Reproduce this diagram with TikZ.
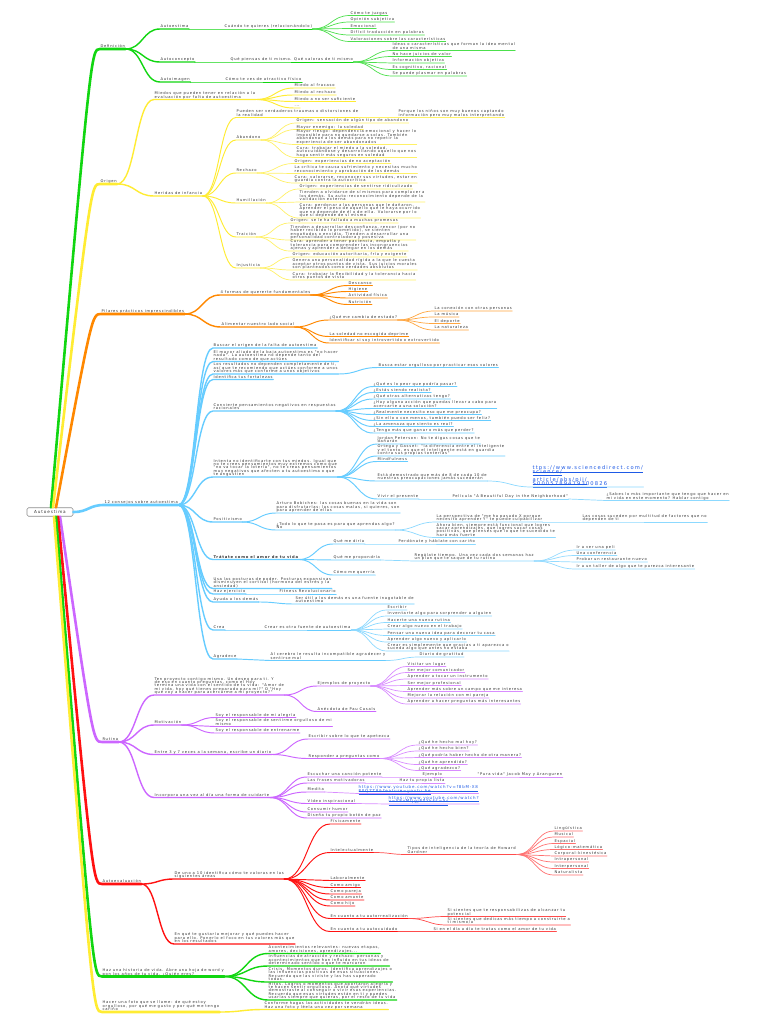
\documentclass[tikz,border=0pt]{standalone}
\usepackage{fontspec}
\usetikzlibrary{calc}
\newfontfamily\mmf{DejaVu Sans}[LetterSpace=20]
\newfontfamily\mmlf{DejaVu Sans}[LetterSpace=22]
\definecolor{cG}{RGB}{17,214,17}
\definecolor{cY}{RGB}{255,236,51}
\definecolor{cO}{RGB}{255,136,0}
\definecolor{cB}{RGB}{102,204,255}
\definecolor{cP}{RGB}{204,102,255}
\definecolor{cR}{RGB}{255,17,17}
\definecolor{cL}{RGB}{30,90,230}
\newcommand\mmtight{\lineskiplimit=-6pt\relax\lineskip=0pt\relax}
\newcommand\mmsz{\fontsize{3.7}{3.4}\selectfont\mmtight}
\newcommand\mmlksz{\fontsize{5.2}{4.2}\selectfont\mmtight}
\newcommand\mmytsz{\fontsize{4}{3.5}\selectfont\mmtight}
\newcommand\mmn[7]{\node[nd] (#4) at (#5,#6) {#7};\draw[#2,draw=#1] (#3.south east) to[sc] (#4.south west) -- (#4.south east);}
\begin{document}
\begin{tikzpicture}[x=1pt,y=-1pt,
 nd/.style={anchor=south west,inner xsep=0.4pt,inner ysep=0.3pt,text depth=0.8pt,align=left,font=\mmf\mmsz,text=black!80},
 lk/.style={nd,text=cL},
 w1/.style={line width=2.6pt,line cap=round},
 w2/.style={line width=1.4pt,line cap=round},
 w3/.style={line width=0.95pt,line cap=round},
 w4/.style={line width=0.7pt,line cap=round},
 sc/.style={to path={.. controls ($(\tikztostart)!0.5!(\tikztotarget |- \tikztostart)$) and ($(\tikztotarget)!0.5!(\tikztostart |- \tikztotarget)$) .. (\tikztotarget)}},
 rt/.style={to path={.. controls ($(\tikztotarget)+(-9,0)$) .. (\tikztotarget)}},
 rootbox/.style={draw=black!45,rounded corners=1.5pt,line width=0.6pt,fill=white,minimum width=46pt,minimum height=8.5pt,inner sep=0.5pt,font=\mmf\fontsize{4.2}{4.2}\selectfont,text=black!80}]
\fill[white] (0,0) rectangle (768,1024);
\useasboundingbox (0,0) rectangle (768,1024);
\node[rootbox] (root) at (50,512) {Autoestima};

% ---------------- GREEN: Definicion
\node[nd] (defi) at (100,49) {Definición};
\draw[w1,draw=cG] ($(root.north)+(1,0)$) to[rt] (defi.south west) -- (defi.south east);
\mmn{cG}{w2}{defi}{dae}{160}{29}{Autoestima}
\mmn{cG}{w3}{dae}{daeq}{224}{29}{Cuándo te quieres (relacionándolo)}
\mmn{cG!75}{w4}{daeq}{daeA}{350}{15.5}{Cómo te juzgas}
\mmn{cG!75}{w4}{daeq}{daeB}{350}{22}{Opinión subjetiva}
\mmn{cG!75}{w4}{daeq}{daeC}{350}{28.5}{Emocional}
\mmn{cG!75}{w4}{daeq}{daeD}{350}{35}{Difícil traducción en palabras}
\mmn{cG!75}{w4}{daeq}{daeE}{350}{41.5}{Valoraciones sobre las características}
\mmn{cG}{w2}{defi}{dac}{160}{62}{Autoconcepto}
\mmn{cG}{w3}{dac}{dacq}{230}{62}{Qué piensas de ti mismo. Qué valoras de ti mismo}
\mmn{cG!75}{w4}{dacq}{dacA}{392}{50.5}{Ideas o características que forman la idea mental\\de una misma}
\mmn{cG!75}{w4}{dacq}{dacB}{392}{56.5}{No hace juicios de valor}
\mmn{cG!75}{w4}{dacq}{dacC}{392}{63}{Información objetiva}
\mmn{cG!75}{w4}{dacq}{dacD}{392}{69.5}{Es cognitivo, racional}
\mmn{cG!75}{w4}{dacq}{dacE}{392}{76}{Se puede plasmar en palabras}
\mmn{cG}{w2}{defi}{dai}{160}{82}{Autoimagen}
\mmn{cG}{w3}{dai}{daiq}{225}{82}{Cómo te ves de atractivo físico}

% ---------------- YELLOW: Origen
\node[nd] (ori) at (100,184) {Origen};
\draw[w1,draw=cY] ($(root.north)+(3,0)$) to[rt] (ori.south west) -- (ori.south east);
\mmn{cY}{w2}{ori}{om}{154}{99.5}{Miedos que pueden tener en relación a la\\evaluación por falta de autoestima}
\mmn{cY}{w3}{om}{omA}{294}{88}{Miedo al fracaso}
\mmn{cY}{w3}{om}{omB}{294}{95}{Miedo al rechazo}
\mmn{cY}{w3}{om}{omC}{294}{101.5}{Miedo a no ser suficiente}
\mmn{cY}{w3}{om}{omD}{294}{108}{...}
\mmn{cY}{w2}{ori}{oh}{154}{196}{Heridas de infancia}
\mmn{cY}{w3}{oh}{ohA}{236}{117.5}{Pueden ser verdaderos traumas o distorsiones de\\la realidad}
\mmn{cY!75}{w4}{ohA}{ohAa}{398}{117.5}{Porque los niños son muy buenos captando\\información pero muy malos interpretando}
\mmn{cY}{w3}{oh}{ohB}{236}{140}{Abandono}
\mmn{cY!75}{w4}{ohB}{ohB1}{296}{123}{Origen: sensación de algún tipo de abandono}
\mmn{cY!75}{w4}{ohB}{ohB2}{296}{129.5}{Mayor enemigo: la soledad}
\mmn{cY!75}{w4}{ohB}{ohB3}{296}{144.5}{Mayor riesgo: dependencia emocional y hacer lo\\imposible para no quedarse a solas. También\\abandonan a los demás para no repetir la\\experiencia de ser abandonados}
\mmn{cY!75}{w4}{ohB}{ohB4}{296}{157.5}{Cura: trabajar el miedo a la soledad,\\autocuidándose y desarrollando aquello que nos\\haga sentir más seguros en soledad}
\mmn{cY}{w3}{oh}{ohC}{236}{173}{Rechazo}
\mmn{cY!75}{w4}{ohC}{ohC1}{294}{163.5}{Origen: experiencias de no aceptación}
\mmn{cY!75}{w4}{ohC}{ohC2}{294}{173.5}{La crítica te causa sufrimiento y necesitas mucho\\reconocimiento y aprobación de los demás}
\mmn{cY!75}{w4}{ohC}{ohC3}{294}{183}{Cura: valorarse, reconocer sus virtudes, estar en\\guardia contra la autocrítica}
\mmn{cY}{w3}{oh}{ohD}{236}{203}{Humillación}
\mmn{cY!75}{w4}{ohD}{ohD1}{299}{189}{Origen: experiencias de sentirse ridiculizado}
\mmn{cY!75}{w4}{ohD}{ohD2}{299}{202}{Tienden a olvidarse de sí mismos para complacer a\\los demás. Su auto-reconocimiento depende de la\\validación externa}
\mmn{cY!75}{w4}{ohD}{ohD3}{299}{218}{Cura: perdonar a las personas que le dañaron.\\Aprender el peso de aquello que le haya ocurrido\\que no depende de él o de ella. Valorarse por lo\\que sí depende de sí mismo}
\mmn{cY}{w3}{oh}{ohE}{236}{237}{Traición}
\mmn{cY!75}{w4}{ohE}{ohE1}{290}{223}{Origen: se le ha fallado a muchas promesas}
\mmn{cY!75}{w4}{ohE}{ohE2}{290}{240}{Tienden a desarrollar desconfianza, rencor (por no\\haber recibido lo prometido), se sienten\\engañados o envidia. Tienden a desarrollar una\\personalidad controladora y posesiva}
\mmn{cY!75}{w4}{ohE}{ohE3}{290}{251}{Cura: aprender a tener paciencia, empatía y\\tolerancia para comprender las incongruencias\\ajenas y aprender a delegar en los demás}
\mmn{cY}{w3}{oh}{ohF}{236}{268}{Injusticia}
\mmn{cY!75}{w4}{ohF}{ohF1}{292}{257}{Origen: educación autoritaria, fría y exigente}
\mmn{cY!75}{w4}{ohF}{ohF2}{292}{270}{Genera una personalidad rígida a la que le cuesta\\aceptar otros puntos de vista. Sus juicios morales\\son planteados como verdades absolutas}
\mmn{cY!75}{w4}{ohF}{ohF3}{292}{280}{Cura: trabajar la flexibilidad y la tolerancia hacia\\otros puntos de vista}

% ---------------- ORANGE: Pilares
\node[nd] (pil) at (101,314) {Pilares prácticos imprescindibles};
\draw[w1,draw=cO] ($(root.north)+(6,0)$) to[rt] (pil.south west) -- (pil.south east);
\mmn{cO}{w2}{pil}{pA}{220}{295}{4 formas de quererte fundamentales}
\mmn{cO}{w3}{pA}{pA1}{348}{285.5}{Descanso}
\mmn{cO}{w3}{pA}{pA2}{348}{291.5}{Higiene}
\mmn{cO}{w3}{pA}{pA3}{348}{298}{Actividad física}
\mmn{cO}{w3}{pA}{pA4}{348}{304.5}{Nutrición}
\mmn{cO}{w2}{pil}{pB}{221}{327}{Alimentar nuestro lado social}
\mmn{cO}{w3}{pB}{pB1}{329}{320}{¿Qué me cambia de estado?}
\mmn{cO!75}{w4}{pB1}{pB1a}{434}{311}{La conexión con otras personas}
\mmn{cO!75}{w4}{pB1}{pB1b}{434}{317}{La música}
\mmn{cO!75}{w4}{pB1}{pB1c}{434}{323.5}{El deporte}
\mmn{cO!75}{w4}{pB1}{pB1d}{434}{330}{La naturaleza}
\mmn{cO}{w3}{pB}{pB2}{329}{336.5}{La soledad no escogida deprime}
\mmn{cO}{w3}{pB}{pB3}{329}{343}{Identificar si soy introvertido o extrovertido}

% ---------------- BLUE: 12 consejos
\node[nd] (con) at (104,505) {12 consejos sobre autoestima};
\draw[w1,draw=cB] (root.east) to[sc] (con.south west) -- (con.south east);
\mmn{cB}{w2}{con}{cA}{213}{348}{Buscar el origen de la falta de autoestima}
\mmn{cB}{w2}{con}{cBb}{213}{361.5}{El mayor aliado de la baja autoestima es "no hacer\\nada". La autoestima no depende tanto del\\resultado como de que actúes}
\mmn{cB}{w2}{con}{cC}{213}{374}{Los resultados no dependen completamente de ti,\\así que te recomiendo que actúes conforme a unos\\valores más que conforme a unos objetivos}
\mmn{cB}{w3}{cC}{cC1}{378}{367.5}{Busca estar orgulloso por practicar esos valores}
\mmn{cB}{w2}{con}{cD}{213}{379.5}{Identifica tus fortalezas}
\mmn{cB}{w2}{con}{cE}{213}{411}{Convierte pensamientos negativos en respuestas\\racionales}
\mmn{cB}{w3}{cE}{cE1}{373}{386.5}{¿Qué es lo peor que podría pasar?}
\mmn{cB}{w3}{cE}{cE2}{373}{392.5}{¿Estás siendo realista?}
\mmn{cB}{w3}{cE}{cE3}{373}{399}{¿Qué otras alternativas tengo?}
\mmn{cB}{w3}{cE}{cE4}{373}{408.5}{¿Hay alguna acción que puedas llevar a cabo para\\acercarte a una solución?}
\mmn{cB}{w3}{cE}{cE5}{373}{414.5}{¿Realmente necesito eso que me preocupa?}
\mmn{cB}{w3}{cE}{cE6}{373}{420.5}{¿Sin ello o con menos, también puedo ser feliz?}
\mmn{cB}{w3}{cE}{cE7}{373}{426.5}{¿La amenaza que siento es real?}
\mmn{cB}{w3}{cE}{cE8}{373}{433}{¿Tengo más que ganar o más que perder?}
\mmn{cB}{w2}{con}{cF}{213}{477}{Intenta no identificarte con tus miedos. Igual que\\no te crees pensamientos muy extremos como que\\"no va tocar la lotería", no te creas pensamientos\\muy negativos que afecten a tu autoestima o que\\te angustien}
\mmn{cB}{w3}{cF}{cF1}{377}{444}{Jordan Peterson: No te digas cosas que te\\dañarán}
\mmn{cB}{w3}{cF}{cF2}{377}{456}{Ortega y Gasset: "la diferencia entre el inteligente\\y el tonto, es que el inteligente está en guardia\\contra sus propias tonterías"}
\mmn{cB}{w3}{cF}{cF3}{377}{461.5}{Mindfulness}
\mmn{cB}{w3}{cF}{cF4}{377}{481}{Está demostrado que más de 8 de cada 10 de\\nuestras preocupaciones jamás sucederán}
\node[lk,font=\mmlf\mmlksz] (cF4a) at (532,487) {\vbox{\hbox{\underline{ttps://www.sciencedirect.com/}}\hbox{\underline{science/}}\vskip3.8pt\hbox{\underline{article/abs/pii/}}\hbox{\underline{S0005789419300826}}}};
\draw[w4,draw=cB!75] (cF4.south east) to[sc] (cF4a.south west) -- (cF4a.south east);
\mmn{cB}{w3}{cF}{cF5}{377}{499}{Vivir el presente}
\mmn{cB!75}{w4}{cF5}{cF5a}{452}{499}{Película "A Beautiful Day in the Neighborhood"}
\mmn{cB!75}{w4}{cF5a}{cF5b}{606}{500.5}{¿Sabes lo más importante que tengo que hacer en\\mi vida en este momento? Hablar contigo}
\mmn{cB}{w2}{con}{cG7}{213}{522}{Positivismo}
\mmn{cB}{w3}{cG7}{cG71}{276}{513}{Arturo Bobiches: las cosas buenas en la vida son\\para disfrutarlas; las cosas malas, si quieres, son\\para aprender de ellas}
\mmn{cB}{w3}{cG7}{cG72}{276}{530}{¿Todo lo que te pasa es para que aprendas algo?\\No}
\mmn{cB!75}{w4}{cG72}{cG721}{436}{522}{La perspectiva de "me ha pasado X porque\\necesito aprender Y" te puede culpabilizar}
\mmn{cB!75}{w4}{cG721}{cG721a}{582}{522}{Las cosas suceden por multitud de factores que no\\dependen de ti}
\mmn{cB!75}{w4}{cG72}{cG722}{436}{537.5}{Ahora bien, siempre está funcional que logres\\sacar aprendizajes, que logres sacar cosas\\positivas, que pienses que lo que te sucedido te\\hará más fuerte}
\mmn{cB}{w2}{con}{cH}{213}{559.5}{\bfseries Trátate como el amor de tu vida}
\mmn{cB}{w3}{cH}{cH1}{333}{544}{Qué me diría}
\mmn{cB!75}{w4}{cH1}{cH1a}{398}{544}{Perdónate y háblate con cariño}
\mmn{cB}{w3}{cH}{cH2}{333}{560}{Qué me propondría}
\mmn{cB!75}{w4}{cH2}{cH2a}{414}{561}{Regálate tiempo. Una vez cada dos semanas haz\\un plan que te saque de tu rutina}
\mmn{cB!70}{w4}{cH2a}{cH2a1}{576}{550}{Ir a ver una peli}
\mmn{cB!70}{w4}{cH2a}{cH2a2}{576}{555.5}{Una conferencia}
\mmn{cB!70}{w4}{cH2a}{cH2a3}{576}{562}{Probar un restaurante nuevo}
\mmn{cB!70}{w4}{cH2a}{cH2a4}{576}{569}{Ir a un taller de algo que te parezca interesante}
\mmn{cB}{w3}{cH}{cH3}{333}{575}{Cómo me querría}
\mmn{cB}{w2}{con}{cI}{213}{588.5}{Usa las posturas de poder. Posturas expansivas\\disminuyen el cortisol (hormona del estrés y la\\ansiedad)}
\mmn{cB}{w2}{con}{cJ}{213}{594}{Haz ejercicio}
\mmn{cB}{w3}{cJ}{cJ1}{279}{594}{Fitness Revolucionario}
\mmn{cB}{w2}{con}{cK}{213}{602}{Ayuda a los demás}
\mmn{cB}{w3}{cK}{cK1}{295}{604}{Ser útil a los demás es una fuente inagotable de\\autoestima}
\mmn{cB}{w2}{con}{cM}{213}{630}{Crea}
\mmn{cB}{w3}{cM}{cM1}{264}{630}{Crear es otra fuente de autoestima}
\mmn{cB!75}{w4}{cM1}{cM1a}{387}{610}{Escribir}
\mmn{cB!75}{w4}{cM1}{cM1b}{387}{616}{Inventarte algo para sorprender a alguien}
\mmn{cB!75}{w4}{cM1}{cM1c}{387}{622.5}{Hacerte una nueva rutina}
\mmn{cB!75}{w4}{cM1}{cM1d}{387}{629}{Crear algo nuevo en el trabajo}
\mmn{cB!75}{w4}{cM1}{cM1e}{387}{635.5}{Pensar una nueva idea para decorar tu casa}
\mmn{cB!75}{w4}{cM1}{cM1f}{387}{642}{Aprender algo nuevo y aplicarlo}
\mmn{cB!75}{w4}{cM1}{cM1g}{387}{651}{Crear es simplemente que gracias a ti aparezca o\\suceda algo que antes no estaba}
\mmn{cB}{w2}{con}{cN}{213}{659}{Agradece}
\mmn{cB}{w3}{cN}{cN1}{270}{660.5}{Al cerebro le resulta incompatible agradecer y\\sentirse mal}
\mmn{cB!75}{w4}{cN1}{cN1a}{419}{657}{Diario de gratitud}

% ---------------- PURPLE: Rutina
\node[nd] (rut) at (102,742) {Rutina};
\draw[w1,draw=cP] ($(root.south)+(10,0)$) to[rt] (rut.south west) -- (rut.south east);
\mmn{cP}{w2}{rut}{rA}{154}{695}{Ten proyecto contigo mismo. Un deseo para ti. Y\\de eso en cuanto preguntas, como el Hoy\\termina una vida con el sentido de tu vida: "Amor de\\mi vida, hoy qué tienes preparado para mí?" O "Hoy\\qué voy a hacer para acercarme a mi proyecto?"}
\mmn{cP}{w3}{rA}{rA1}{317}{686}{Ejemplos de proyecto}
\mmn{cP!75}{w4}{rA1}{rA1a}{407}{666.5}{Visitar un lugar}
\mmn{cP!75}{w4}{rA1}{rA1b}{407}{672.5}{Ser mejor comunicador}
\mmn{cP!75}{w4}{rA1}{rA1c}{407}{679}{Aprender a tocar un instrumento}
\mmn{cP!75}{w4}{rA1}{rA1d}{407}{685.5}{Ser mejor profesional}
\mmn{cP!75}{w4}{rA1}{rA1e}{407}{691.5}{Aprender más sobre un campo que me interesa}
\mmn{cP!75}{w4}{rA1}{rA1f}{407}{698}{Mejorar la relación con mi pareja}
\mmn{cP!75}{w4}{rA1}{rA1g}{407}{704}{Aprender a hacer preguntas más interesantes}
\mmn{cP}{w3}{rA}{rA2}{317}{711.5}{Anécdota de Pau Casals}
\mmn{cP}{w2}{rut}{rB}{154}{725}{Motivación}
\mmn{cP}{w3}{rB}{rB1}{215}{717.5}{Soy el responsable de mi alegría}
\mmn{cP}{w3}{rB}{rB2}{215}{726.5}{Soy el responsable de sentirme orgulloso de mi\\mismo}
\mmn{cP}{w3}{rB}{rB3}{215}{733}{Soy el responsable de entrenarme}
\mmn{cP}{w2}{rut}{rC}{154}{754.5}{Entre 3 y 7 veces a la semana, escribe un diario}
\mmn{cP}{w3}{rC}{rC1}{308}{739}{Escribir sobre lo que te apetezca}
\mmn{cP}{w3}{rC}{rC2}{308}{758.5}{Responder a preguntas como}
\mmn{cP!75}{w4}{rC2}{rC2a}{418}{745}{¿Qué he hecho mal hoy?}
\mmn{cP!75}{w4}{rC2}{rC2b}{418}{751}{¿Qué he hecho bien?}
\mmn{cP!75}{w4}{rC2}{rC2c}{418}{757.5}{¿Qué podría haber hecho de otra manera?}
\mmn{cP!75}{w4}{rC2}{rC2d}{418}{764.5}{¿Qué he aprendido?}
\mmn{cP!75}{w4}{rC2}{rC2e}{418}{770.5}{¿Qué agradezco?}
\mmn{cP}{w2}{rut}{rD}{154}{797.5}{Incorpora una vez al día una forma de cuidarte}
\mmn{cP}{w3}{rD}{rD1}{307}{777}{Escuchar una canción potente}
\mmn{cP!75}{w4}{rD1}{rD1a}{422}{777}{Ejemplo}
\mmn{cP!75}{w4}{rD1a}{rD1b}{477}{777}{"Pura vida" Jacob May y Aranguren}
\mmn{cP}{w3}{rD}{rD2}{307}{783}{Las frases motivadoras}
\mmn{cP!75}{w4}{rD2}{rD2a}{399}{783}{Haz tu propia lista}
\mmn{cP}{w3}{rD}{rD3}{307}{792}{Medita}
\node[lk,font=\mmf\mmytsz] (rD3a) at (358,793.5) {\underline{https://www.youtube.com/watch?v=f8bM-X8}\\\underline{P0QZT8\&feature=youtu.be}};
\draw[w4,draw=cP!75] (rD3.south east) to[sc] (rD3a.south west) -- (rD3a.south east);
\mmn{cP}{w3}{rD}{rD4}{307}{803.5}{Vídeo inspiracional}
\node[lk,font=\mmf\mmytsz] (rD4a) at (388,804) {\underline{https://www.youtube.com/watch?}\\\underline{v=V8vMfjgjP0Yk\&t=5s}};
\draw[w4,draw=cP!75] (rD4.south east) to[sc] (rD4a.south west) -- (rD4a.south east);
\mmn{cP}{w3}{rD}{rD5}{307}{812}{Consumir humor}
\mmn{cP}{w3}{rD}{rD6}{307}{818}{Diseña tu propio botón de paz}

% ---------------- RED: Autoevaluacion
\node[nd] (aev) at (102,884) {Autoevaluación};
\draw[w1,draw=cR] ($(root.south)+(8,0)$) to[rt] (aev.south west) -- (aev.south east);
\mmn{cR}{w2}{aev}{aA}{174}{879}{De uno a 10 identifica cómo te valoras en las\\siguientes áreas}
\mmn{cR}{w3}{aA}{aA1}{330}{824}{Físicamente}
\mmn{cR}{w3}{aA}{aA2}{330}{852.5}{Intelectualmente}
\mmn{cR!75}{w4}{aA2}{aA2a}{407}{854.5}{Tipos de inteligencia de la teoría de Howard\\Gardner}
\mmn{cR!60}{w4}{aA2a}{aG1}{554}{831}{Lingüística}
\mmn{cR!60}{w4}{aA2a}{aG2}{554}{837}{Musical}
\mmn{cR!60}{w4}{aA2a}{aG3}{554}{843.5}{Espacial}
\mmn{cR!60}{w4}{aA2a}{aG4}{554}{849.5}{Lógico-matemática}
\mmn{cR!60}{w4}{aA2a}{aG5}{554}{856}{Corporal-kinestésica}
\mmn{cR!60}{w4}{aA2a}{aG6}{554}{862}{Intrapersonal}
\mmn{cR!60}{w4}{aA2a}{aG7}{554}{868.5}{Interpersonal}
\mmn{cR!60}{w4}{aA2a}{aG8}{554}{875}{Naturalista}
\mmn{cR}{w3}{aA}{aA3}{330}{880.5}{Laboralmente}
\mmn{cR}{w3}{aA}{aA4}{330}{887.5}{Como amigo}
\mmn{cR}{w3}{aA}{aA5}{330}{894}{Como pareja}
\mmn{cR}{w3}{aA}{aA6}{330}{900}{Como amante}
\mmn{cR}{w3}{aA}{aA7}{330}{906}{Como hijo}
\mmn{cR}{w3}{aA}{aA8}{330}{918.5}{En cuanto a tu autorrealización}
\mmn{cR!75}{w4}{aA8}{aA8a}{447}{916.5}{Si sientes que te responsabilizas de alcanzar tu\\potencial}
\mmn{cR!75}{w4}{aA8}{aA8b}{447}{925}{Si sientes que dedicas más tiempo a construirte a\\ti mismo/a}
\mmn{cR}{w3}{aA}{aA9}{330}{931.5}{En cuanto a tu autocuidado}
\mmn{cR!75}{w4}{aA9}{aA9a}{433}{931.5}{Si en el día a día te tratas como el amor de tu vida}
\mmn{cR}{w2}{aev}{aB}{174}{944}{En qué te gustaría mejorar y qué puedes hacer\\para ello. Ponerlo el foco en tus valores más que\\en los resultados}

% ---------------- GREEN 2: historia de vida
\node[nd] (his) at (102,976.5) {Haz una historia de vida. Abre una hoja de word y\\pon los años de tu vida. ¿Quién eres?};
\draw[w1,draw=cG] ($(root.south)+(6,0)$) to[rt] (his.south west) -- (his.south east);
\mmn{cG}{w2}{his}{hA}{268}{953.5}{Acontecimientos relevantes: nuevas etapas,\\amores, decisiones, aprendizajes...}
\mmn{cG}{w2}{his}{hB}{268}{966}{Influencias de atracción y rechazo: personas y\\acontecimientos que han influido en tus ideas de\\determinado sentido o que te marcaron}
\mmn{cG}{w2}{his}{hC}{268}{982}{Crisis. Momentos duros. Identifica aprendizajes o\\las influencias positivas de esas situaciones.\\Recuerda que las viviste y las has superado\\todas.}
\mmn{cG}{w2}{his}{hD}{268}{1000}{Hitos. Logros o momentos que aportaron alegría y\\te hacen sentir orgulloso. Anota qué virtudes\\demostraste al conseguir o vivir esas experiencias.\\Recuerda que esas virtudes están en ti y puedes\\usarlas siempre que quieras, por el resto de tu vida}

% ---------------- YELLOW 2: foto
\node[nd] (fot) at (102,1012) {Hacer una foto que se llame: de qué estoy\\orgulloso, por qué me gusto y por qué me tengo\\cariño};
\draw[w1,draw=cY] ($(root.south)+(4,0)$) to[rt] (fot.south west) -- (fot.south east);
\mmn{cY}{w2}{fot}{fA}{264}{1009.5}{Conforme hagas las actividades te vendrán ideas.\\Haz una foto y léela una vez por semana}
\end{tikzpicture}
\end{document}
